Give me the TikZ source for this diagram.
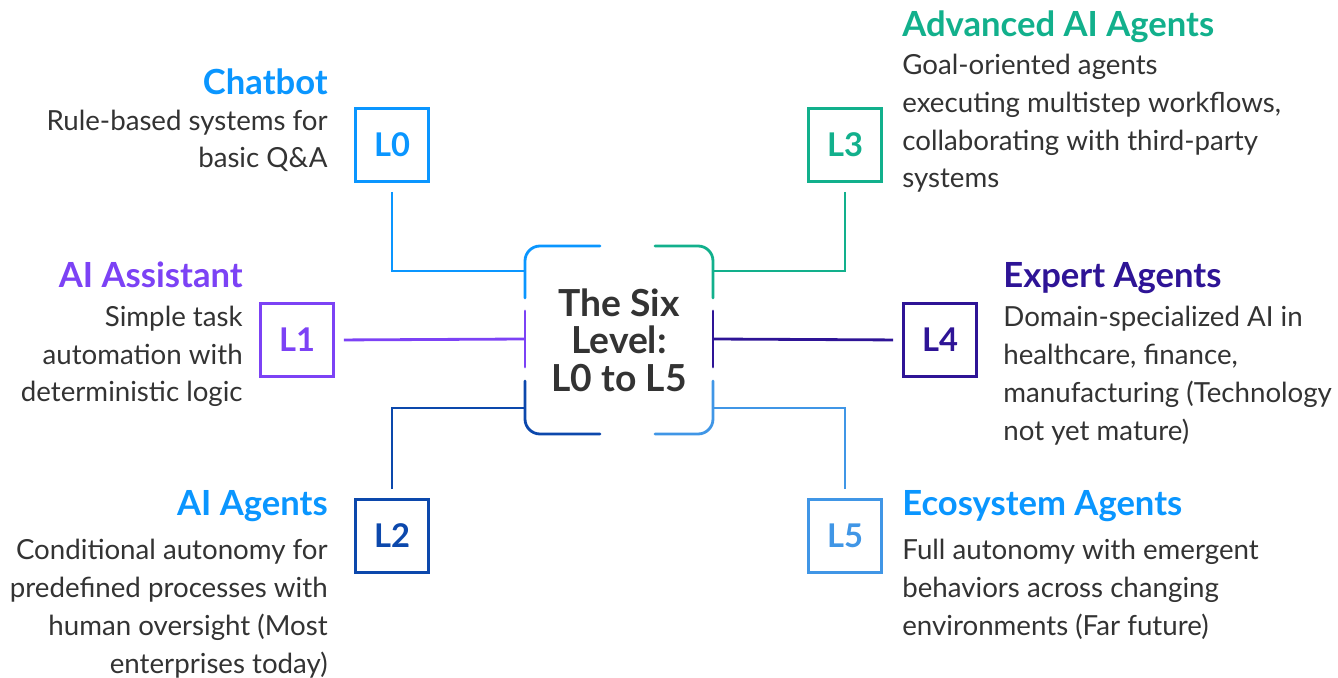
\documentclass[tikz,border=0pt]{standalone}
\usepackage{fontspec}
\setmainfont{Lato}
\definecolor{zeroblue}{RGB}{10,150,255}
\definecolor{onepurple}{RGB}{124,66,245}
\definecolor{twonavy}{RGB}{12,72,172}
\definecolor{threeteal}{RGB}{18,176,140}
\definecolor{fourindigo}{RGB}{46,20,150}
\definecolor{fivesky}{RGB}{64,150,230}
\definecolor{ink}{RGB}{51,51,51}

\begin{document}
\begin{tikzpicture}[
    x=0.02cm, y=-0.02cm,
    every node/.style={inner sep=0pt},
    lvl/.style={draw, line width=1.7pt, minimum size=1.46cm, font=\bfseries\fontsize{18.6pt}{20pt}\selectfont},
    head/.style={font=\bfseries\fontsize{19.7pt}{22pt}\selectfont},
    desc/.style={font=\fontsize{15.75pt}{21.45pt}\selectfont, text=ink},
    link/.style={line width=1.6pt},
    rim/.style={line width=1.6pt, line cap=round, rounded corners=0.3cm}
]
\useasboundingbox (0,0) rectangle (1338,678);

% centre title and its split frame
\node[font=\bfseries\fontsize{21.2pt}{21.3pt}\selectfont, text=ink, align=center] (hub) at (619,340) {The Six\\Level:\\L0 to L5};
\draw[rim, zeroblue] (600,246) -| (525,298);
\draw[rim, onepurple] (525,311) -- (525,367);
\draw[rim, twonavy] (525,381) |- (600,434);
\draw[rim, threeteal] (655,246) -| (713,298);
\draw[rim, fourindigo] (713,311) -- (713,367);
\draw[rim, fivesky] (713,381) |- (655,434);

% level boxes
\node[lvl, draw=zeroblue, text=zeroblue] (b0) at (392,145) {L0};
\node[lvl, draw=onepurple, text=onepurple] (b1) at (297,340) {L1};
\node[lvl, draw=twonavy, text=twonavy] (b2) at (392,536) {L2};
\node[lvl, draw=threeteal, text=threeteal] (b3) at (845,145) {L3};
\node[lvl, draw=fourindigo, text=fourindigo] (b4) at (940,340) {L4};
\node[lvl, draw=fivesky, text=fivesky] (b5) at (845,536) {L5};

% where the links meet the frame
\coordinate (f0) at (525,271);
\coordinate (f1) at (525,339);
\coordinate (f2) at (525,408);
\coordinate (f3) at (713,271);
\coordinate (f4) at (713,339);
\coordinate (f5) at (713,408);

\draw[link, zeroblue, shorten <=0.18cm] (b0.south) |- (f0);
\draw[link, onepurple, shorten <=0.18cm] (b1.east) -- (f1);
\draw[link, twonavy, shorten <=0.18cm] (b2.north) |- (f2);
\draw[link, threeteal, shorten <=0.18cm] (b3.south) |- (f3);
\draw[link, fourindigo, shorten <=0.18cm] (b4.west) -- (f4);
\draw[link, fivesky, shorten <=0.18cm] (b5.north) |- (f5);

% left column (body nodes sit on their last baseline)
\node[head, text=zeroblue, anchor=base east] (t0) at (328,95) {Chatbot};
\node[desc, align=right, anchor=base east] (d0) at (328,168) {Rule-based systems for\\basic Q\&A};
\node[head, text=onepurple, anchor=base east] (t1) at (243,288) {AI Assistant};
\node[desc, align=right, anchor=base east] (d1) at (243,402) {Simple task\\automation with\\deterministic logic};
\node[head, text=zeroblue, anchor=base east] (t2) at (328,515) {AI Agents};
\node[desc, align=right, anchor=base east] (d2) at (328,673) {Conditional autonomy for\\predefined processes with\\human oversight (Most\\enterprises today)};

% right column
\node[head, text=threeteal, anchor=base west] (t3) at (902,37) {Advanced AI Agents};
\node[desc, align=left, anchor=base west] (d3) at (902,188) {Goal-oriented agents\\executing multistep workflows,\\collaborating with third-party\\systems};
\node[head, text=fourindigo, anchor=base west] (t4) at (1003,288) {Expert Agents};
\node[desc, align=left, anchor=base west] (d4) at (1003,440) {Domain-specialized AI in\\healthcare, finance,\\manufacturing (Technology\\not yet mature)};
\node[head, text=zeroblue, anchor=base west] (t5) at (902,515) {Ecosystem Agents};
\node[desc, align=left, anchor=base west] (d5) at (902,635) {Full autonomy with emergent\\behaviors across changing\\environments (Far future)};
\end{tikzpicture}
\end{document}
